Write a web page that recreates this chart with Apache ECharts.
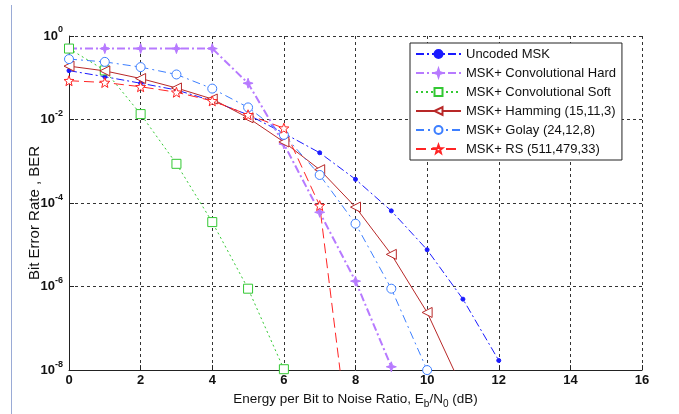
<!DOCTYPE html>
<html><head><meta charset="utf-8">
<script src="https://cdn.jsdelivr.net/npm/echarts@6/dist/echarts.min.js"></script>
<style>html,body{margin:0;padding:0;background:#fff}#c{width:679px;height:414px}</style>
</head><body><div id="c"></div>
<script>
const snrDb = [0,1,2,3,4,5,6,7,8,9,10,11,12];
const uncodedMsk   = [0.148,0.106,0.074,0.051,0.028,0.013,0.0047,0.0016,3.7e-4,6.5e-5,7.6e-6,5.0e-7,1.7e-8];
const convHard     = [0.5,0.5,0.5,0.5,0.5,0.074,2.6e-3,6.0e-5,1.35e-6,1.2e-8];
const convSoft     = [0.5,0.15,0.0135,8.7e-4,3.5e-5,8.9e-7,1.05e-8];
const hamming      = [0.19,0.146,0.096,0.057,0.031,0.011,2.9e-3,6.3e-4,8.0e-5,5.9e-6,2.4e-7,3.4e-9];
const golay        = [0.28,0.24,0.18,0.12,0.055,0.0195,4.3e-3,4.7e-4,3.2e-5,8.9e-7,1.0e-8];
const reedSolomon  = [0.085,0.077,0.061,0.045,0.028,0.013,6.2e-3,8.7e-5,1.0e-11];
const seriesNames = ['Uncoded MSK','MSK+ Convolutional Hard','MSK+ Convolutional Soft','MSK+ Hamming (15,11,3)','MSK+ Golay (24,12,8)','MSK+ RS (511,479,33)'];
const yAxisTitle = 'Bit Error Rate , BER';

function starPath(n, inner){
  let s='path://';
  for(let i=0;i<2*n;i++){
    const r = i%2===0 ? 1 : inner;
    const a = -Math.PI/2 + i*Math.PI/n;
    s += (i===0?'M':'L') + (r*Math.cos(a)).toFixed(3)+','+(r*Math.sin(a)).toFixed(3)+' ';
  }
  return s+'Z';
}
const pentagram = starPath(5,0.42);
const fourStar = starPath(4,0.35);

function pairs(vals){ return vals.map((v,i)=>[snrDb[i], v]); }

const FONT = '"Liberation Sans", Arial, sans-serif';
const chart = echarts.init(document.getElementById('c'), null, {renderer:'canvas'});

function mk(name, data, color, lineType, width, symbol, size, filled, rotate){
  return {
    name, type:'line', data: pairs(data), clip:true,
    symbol, symbolSize:size, symbolRotate: rotate||0, showAllSymbol:true,
    lineStyle:{color, width, type:lineType},
    itemStyle:{color: filled ? color : '#fff', borderColor: color, borderWidth: 1},
    emphasis:{disabled:true}, animation:false, z: 3
  };
}

const option = {
  animation:false,
  backgroundColor:'#fff',
  grid:{left:69, right:37, top:36, bottom:43, containLabel:false},
  xAxis:{
    type:'value', min:0, max:16, interval:2,
    axisLine:{show:true, onZero:false, lineStyle:{color:'#222', width:1}},
    axisTick:{show:true, inside:true, length:5, lineStyle:{color:'#222'}},
    axisLabel:{color:'#111', fontFamily:FONT, fontSize:13, fontWeight:'bold', margin:4},
    splitLine:{show:true, lineStyle:{color:'#333', type:[3,3], width:1}},
    name:'{t|Energy per Bit to Noise Ratio, E}{s|b}{t|/N}{s|0}{t| (dB)}',
    nameLocation:'middle', nameGap:21,
    nameTextStyle:{
      fontFamily:FONT, color:'#111',
      rich:{
        t:{fontSize:13.5, lineHeight:17, verticalAlign:'top', fontFamily:FONT, color:'#111'},
        s:{fontSize:10, lineHeight:10, verticalAlign:'bottom', fontFamily:FONT, color:'#111'}
      }
    }
  },
  yAxis:{
    type:'log', logBase:10, min:1e-8, max:1, interval:2,
    axisLine:{show:true, onZero:false, lineStyle:{color:'#222', width:1}},
    axisTick:{show:true, inside:true, length:5, lineStyle:{color:'#222'}},
    minorTick:{show:false},
    axisLabel:{
      margin:6, fontFamily:FONT,
      formatter:function(v){
        const e = Math.round(Math.log10(v));
        return '{a|10}{b|'+e+'}';
      },
      rich:{
        a:{fontSize:13, lineHeight:13, fontWeight:'bold', verticalAlign:'middle', fontFamily:FONT, color:'#111'},
        b:{fontSize:9, lineHeight:9, fontWeight:'bold', verticalAlign:'middle', padding:[0,0,12,0], fontFamily:FONT, color:'#111'}
      }
    },
    splitLine:{show:true, lineStyle:{color:'#333', type:[3,3], width:1}},
    name:''
  },
  legend:{
    show:true, orient:'vertical', left:410, top:43,
    padding:[4,6,4,5], itemGap:5, itemWidth:45, itemHeight:10,
    backgroundColor:'#fff', borderColor:'#222', borderWidth:1, borderRadius:0,
    textStyle:{fontFamily:FONT, fontSize:13, color:'#111', lineHeight:14},
    data: seriesNames
  },
  graphic:[
    {type:'line', shape:{x1:11.5,y1:5,x2:11.5,y2:414}, style:{stroke:'#9aabd6', lineWidth:1}, silent:true},
    {type:'text', x:35, y:213, rotation:Math.PI/2, silent:true,
     style:{text:yAxisTitle, font:'15px "Liberation Sans", Arial, sans-serif', fill:'#111', textAlign:'center', textVerticalAlign:'middle'}}
  ],
  series:[
    mk(seriesNames[0], uncodedMsk, '#1a1aff', [8,3,2,3], 1, 'circle', 4, true),
    mk(seriesNames[1], convHard, '#b77aff', [8,3,2,3], 2, fourStar, 10, true),
    mk(seriesNames[2], convSoft, '#33c833', [2,3], 1, 'rect', 9, false),
    mk(seriesNames[3], hamming, '#b82828', 'solid', 1, 'triangle', 10, false, 90),
    mk(seriesNames[4], golay, '#3d7fff', [8,4,2,4], 1, 'circle', 9, false),
    mk(seriesNames[5], reedSolomon, '#ff2424', [10,5], 1, pentagram, 10, false)
  ]
};
chart.setOption(option);
</script>
</body></html>
